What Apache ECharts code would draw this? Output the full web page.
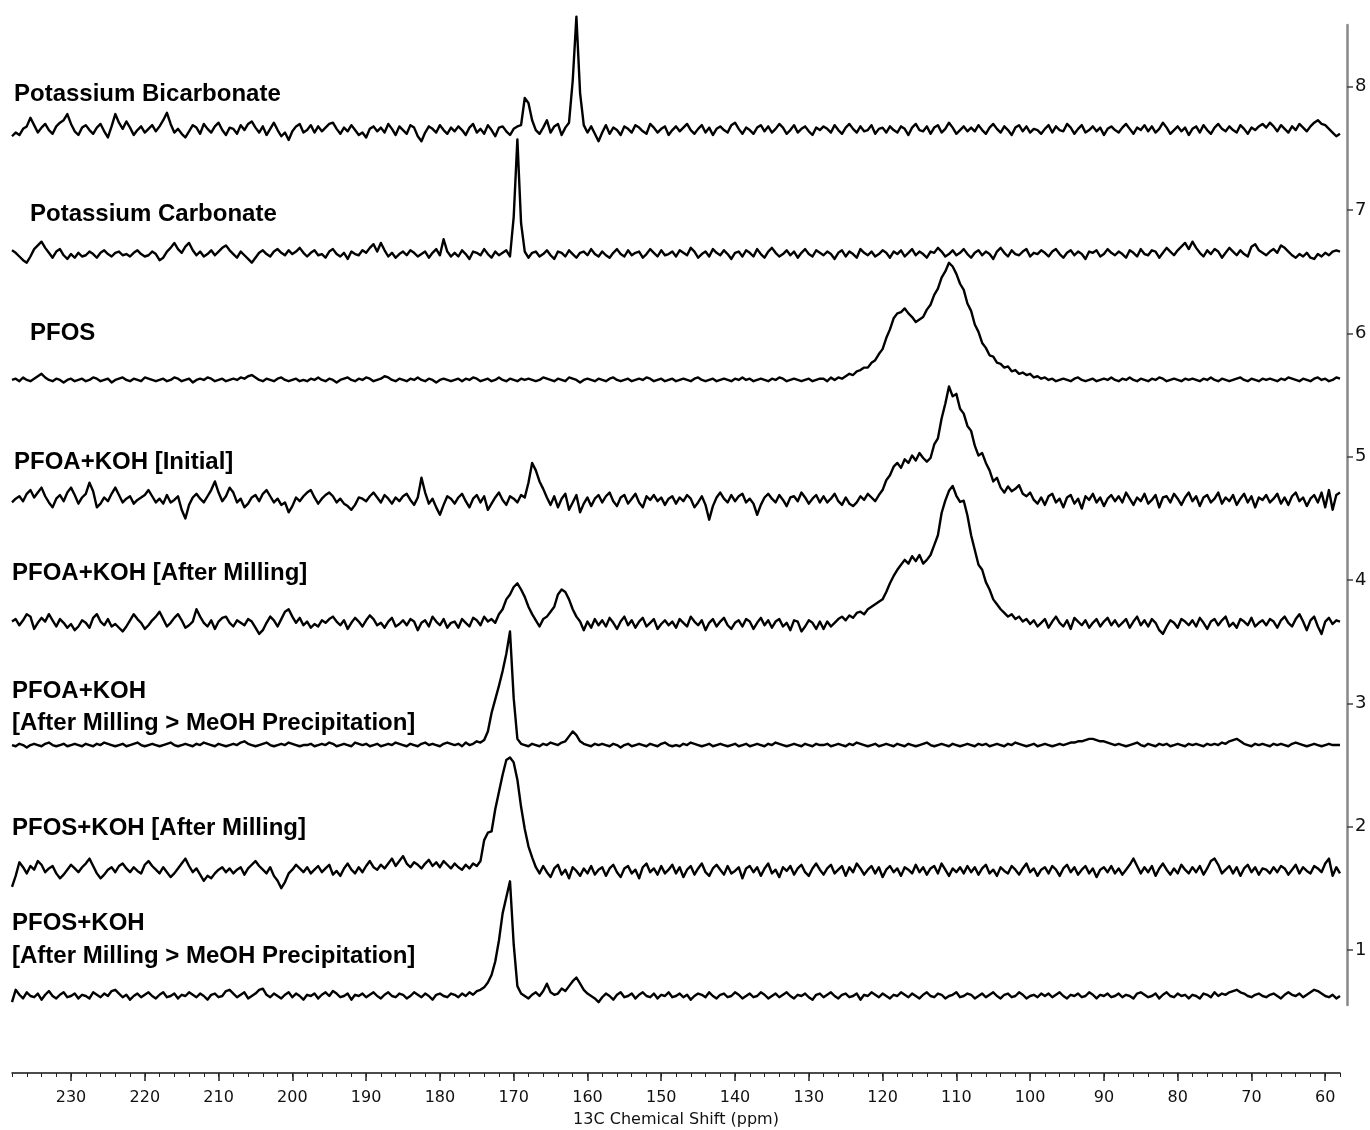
<!DOCTYPE html>
<html>
<head>
<meta charset="utf-8">
<title>13C NMR stacked spectra</title>
<script src="https://cdn.jsdelivr.net/npm/echarts@6/dist/echarts.min.js"></script>
<style>
  html, body { margin: 0; padding: 0; background: #fff; }
  #chart { width: 1370px; height: 1130px; }
</style>
</head>
<body>
<div id="chart"></div>
<script>
// ppm grid: every spectrum is sampled from 238 ppm down to 58 ppm, 0.5 ppm apart
var ppmStart = 238;
var ppmStep = 0.5;

// tick labels
var ppmTicks = [60, 70, 80, 90, 100, 110, 120, 130, 140, 150, 160, 170, 180, 190, 200, 210, 220, 230];
var stackTicks = [1, 2, 3, 4, 5, 6, 7, 8];

// trace names (top to bottom)
var traceNames = [
  'Potassium Bicarbonate',
  'Potassium Carbonate',
  'PFOS',
  'PFOA+KOH [Initial]',
  'PFOA+KOH [After Milling]',
  'PFOA+KOH [After Milling > MeOH Precipitation]',
  'PFOS+KOH [After Milling]',
  'PFOS+KOH [After Milling > MeOH Precipitation]'
];

// baseline of each trace on the stacking axis
var baselines = [7.648, 6.643, 5.622, 4.649, 3.643, 2.662, 1.641, 0.627];

// intensities, hundredths of a stack unit above the baseline (one row = 10 ppm)
var bicarbonate = [
  -5,-2,-4,1,3,10,4,-2,2,5,0,-3,3,6,8,13,5,-1,-4,2,
  4,0,-3,2,5,-1,-6,3,13,6,1,7,2,-4,0,3,-2,1,4,-1,
  3,8,14,5,-2,1,-3,-6,-1,4,2,-3,5,1,-2,3,6,0,-4,2,
  1,-3,4,0,5,7,2,-2,3,-4,1,6,0,-5,-2,-8,-1,3,5,-2,
  0,4,-2,3,-1,2,5,6,1,-3,2,-1,4,0,-4,-2,-6,1,3,-1,
  2,-2,5,1,-4,3,0,-3,4,2,-5,-9,-2,3,1,-2,4,0,-3,2,
  -1,3,0,-4,2,5,-2,1,-3,4,0,-5,2,3,-1,-4,1,3,4,26,
  22,8,0,-3,2,8,-2,3,5,-4,2,6,40,92,30,4,-2,3,-3,-9,
  -2,4,-3,2,0,-4,3,1,-2,4,2,-1,-3,5,2,-2,1,3,-4,0,
  3,-1,2,5,0,-3,1,4,-2,2,-4,1,3,0,-2,4,6,1,-3,2,
  0,-3,2,4,-1,3,-2,1,5,2,-3,0,4,-2,1,3,-1,-4,2,0,
  3,1,-2,4,0,-3,2,5,1,-2,3,-1,0,4,-3,1,2,-2,3,0,
  -2,3,1,-4,2,5,0,-1,3,-3,2,4,-2,1,6,2,-3,0,3,-1,
  2,-1,4,0,-3,2,5,1,-2,3,0,-4,2,4,-1,3,-2,1,0,-3,
  1,4,-2,3,0,-1,5,2,-3,1,4,-2,0,3,-1,2,-4,1,3,0,
  -2,2,5,1,-3,2,0,4,-1,3,-2,1,6,2,-3,0,3,-1,2,-4,
  1,3,-2,4,0,-3,2,5,1,-1,3,0,-2,4,1,-3,2,0,3,5,
  2,6,3,-1,4,1,-2,3,0,5,2,-1,3,6,8,5,4,1,-2,-5,
  -3
];

var carbonate = [
  3,1,-2,-5,-7,-2,4,7,10,5,1,-3,2,4,-1,-4,0,-3,1,-2,
  -1,2,0,-3,1,3,0,-2,1,2,-1,0,-2,1,3,0,-2,-1,2,0,
  -5,-3,2,5,9,4,1,6,9,3,-1,2,-2,0,3,-1,2,5,7,3,
  0,-3,2,-1,-4,-7,-3,1,3,0,-2,2,4,1,-1,3,0,2,5,1,
  -2,1,3,-1,0,-3,2,4,0,-2,1,-4,2,0,-1,3,1,5,8,2,
  9,3,-2,1,-3,0,2,-1,3,1,-2,0,2,-3,1,4,-1,12,2,-2,
  1,-2,3,0,-4,2,1,-1,4,0,-3,2,-1,1,3,-2,30,93,25,2,
  -3,1,2,-2,0,3,-1,-4,2,1,-2,3,0,-3,1,2,-1,4,0,-2,
  2,-1,-3,1,4,0,-2,3,-1,1,2,-3,0,4,1,-2,3,-1,0,2,
  -2,3,1,-1,5,2,-3,0,2,-2,4,1,-1,3,0,-4,1,2,-2,3,
  1,-2,4,0,-3,2,5,1,-2,0,3,-1,2,-3,1,4,0,-2,3,1,
  -1,2,0,-4,1,3,-2,2,0,-3,4,1,-1,2,-2,0,3,1,-3,2,
  0,3,-2,1,4,-1,2,0,-3,2,1,5,2,-2,0,3,-1,1,4,0,
  -3,1,3,-1,2,0,-4,2,5,1,-2,3,0,-1,2,4,-2,1,0,3,
  1,-2,2,4,0,-3,1,3,-1,2,0,-4,2,1,3,-2,0,4,1,-1,
  2,0,-3,3,1,-2,4,0,-1,3,2,-3,1,5,2,-1,3,6,9,4,
  10,5,1,-2,3,0,4,2,-3,1,5,2,-1,3,0,-2,6,8,3,1,
  -1,2,4,1,7,5,2,-1,-3,0,-2,1,-3,-4,0,-2,1,-1,2,3,
  2
];

var pfos = [
  0,1,-1,2,0,-1,1,3,5,2,0,-1,1,0,-2,0,1,-1,0,1,
  -1,0,2,1,-1,0,1,-2,0,1,2,0,-1,1,0,-1,2,1,0,-1,
  0,1,-1,0,2,1,-1,0,1,-2,0,1,0,2,1,-1,0,1,-1,0,
  1,0,2,1,3,4,2,0,-1,1,0,-1,1,2,0,-1,0,1,-1,0,
  -1,1,0,2,0,-1,1,0,-2,0,1,2,0,-1,1,0,2,1,-1,0,
  1,3,2,0,-1,1,0,-1,1,0,2,0,-1,1,0,-2,0,1,0,-1,
  0,1,-1,1,0,2,1,-1,0,1,-1,0,2,0,-1,1,0,-1,1,0,
  1,0,-1,0,2,1,0,-1,1,0,-1,2,1,0,-2,0,1,0,-1,1,
  0,-1,1,2,0,-1,0,1,-1,0,1,0,2,1,-1,0,1,-1,0,1,
  -1,0,1,0,-1,1,2,0,-1,0,1,-1,0,1,0,-1,1,0,2,0,
  1,-1,0,1,0,-1,1,0,2,1,-1,0,1,0,-1,0,1,-1,0,1,
  1,-1,2,0,2,1,3,5,4,7,8,10,10,14,16,21,25,34,41,50,
  54,55,58,54,51,47,49,51,57,61,69,74,83,88,95,92,86,78,73,62,
  56,45,39,30,26,20,19,14,13,10,11,7,8,5,6,4,5,2,3,1,
  2,0,1,-1,0,1,0,-1,1,2,0,-1,0,1,-1,0,1,0,2,0,
  -1,1,0,2,0,-1,1,0,-1,1,0,2,1,-1,0,1,0,-1,1,0,
  1,0,-1,1,0,2,0,-1,1,0,-1,0,1,2,0,-1,1,0,-1,1,
  0,1,0,-1,1,0,2,1,0,-1,1,0,-1,1,2,0,1,-1,0,2,
  1
];

var pfoaInitial = [
  -2,1,3,-1,5,8,2,6,10,3,-2,-6,1,4,-1,6,10,4,-3,2,
  5,14,7,-6,-3,2,-1,5,10,4,-2,1,3,-3,0,2,4,8,3,-2,
  1,-3,4,-2,0,3,-8,-15,-4,2,5,1,-2,3,8,15,6,-1,3,10,
  6,-2,1,-6,-3,2,4,-1,5,8,3,-2,1,-4,-2,-10,-5,2,-1,3,
  6,8,2,-3,1,4,6,3,-2,1,-3,-5,-8,-4,2,1,-1,3,6,2,
  -2,4,1,-3,2,-1,3,5,0,-4,2,18,6,-3,1,-6,-12,-4,3,1,
  -3,2,5,-1,-6,1,4,-2,3,-8,-3,2,6,0,-4,3,1,-2,4,2,
  14,30,24,15,9,2,-4,3,-6,1,5,-8,-2,4,-10,-3,2,-5,1,4,
  -2,3,6,-1,-5,2,4,-3,1,5,-2,-6,3,0,4,-1,2,-4,1,3,
  -3,2,-1,4,1,-6,-2,3,-4,-16,-5,2,6,1,-2,4,-1,3,5,-2,
  1,-3,-12,-4,2,5,1,-2,4,0,-5,2,3,-1,6,2,-3,1,4,-2,
  3,-2,1,5,-1,-4,2,-3,-5,-2,3,0,5,2,-1,4,8,16,20,27,
  30,26,33,30,36,32,38,34,31,34,45,50,66,78,92,84,86,74,70,60,
  56,44,36,38,30,24,15,18,10,6,11,7,9,12,5,3,6,0,-3,2,
  -4,3,5,-2,1,-6,2,4,-3,1,-7,3,0,5,-2,2,-5,1,4,-1,
  3,-2,6,1,-4,2,-1,5,-3,0,4,-6,2,3,-2,5,1,-4,2,6,
  -1,3,-5,2,4,-2,1,6,-3,2,-1,4,-4,1,5,-2,3,-6,2,0,
  4,-2,1,5,-3,2,-4,3,6,-1,2,-5,1,4,-2,6,-6,8,-8,4,
  6
];

var pfoaMilled = [
  2,4,-1,3,8,6,-4,1,5,2,8,3,-2,4,1,-3,0,-5,-2,3,
  1,-3,5,8,2,-1,4,-2,0,-3,-6,-2,3,8,4,1,-4,-1,3,6,
  10,4,-2,1,5,8,3,-3,-1,2,12,6,1,-2,3,-4,2,5,6,1,
  -2,3,1,-1,4,2,-3,-8,-5,1,6,3,-2,4,10,12,6,1,5,-1,
  2,-3,0,-2,3,1,4,6,2,-1,3,-4,1,5,2,-2,3,7,4,-1,
  1,-3,2,5,-2,0,3,-1,4,2,-5,1,3,-2,6,2,-1,4,-3,1,
  2,-3,4,1,-2,5,3,-1,6,2,4,1,8,12,20,24,30,33,28,22,
  14,8,3,-2,4,6,10,14,24,28,26,20,12,6,2,-5,2,-3,4,-1,
  3,-2,5,1,-4,2,6,-1,3,-3,2,5,-2,1,4,-4,0,3,-1,2,
  -3,4,1,-2,6,2,-1,3,-5,1,4,-2,2,5,-1,-4,1,3,-2,4,
  2,-4,1,5,-1,3,-3,2,4,-2,1,-5,3,2,-6,-2,3,1,-4,2,
  -4,2,-2,1,4,6,3,7,5,9,10,8,12,14,16,18,20,26,33,39,
  44,48,52,49,55,51,56,49,52,56,64,72,90,100,108,112,104,99,100,88,
  72,60,48,44,34,28,20,16,12,9,6,8,4,6,2,4,0,3,-2,1,
  4,-3,2,6,1,-2,3,-4,5,2,-1,3,-3,1,4,-2,2,5,-1,3,
  -2,1,4,-3,2,6,-1,3,-2,4,1,-5,-8,-2,3,1,-3,4,2,-1,
  3,-2,5,1,-4,2,4,-1,3,6,-2,1,-3,4,2,-1,5,-2,1,3,
  -1,4,2,-3,3,6,1,-2,4,8,2,-5,3,6,-2,-8,2,5,0,3,
  2
];

var pfoaMeoh = [
  0,-1,1,0,-2,0,1,0,-1,1,2,0,-1,0,1,-1,0,1,0,-1,
  1,0,-1,1,0,2,1,0,-1,0,1,-1,0,1,2,0,-1,0,1,0,
  -1,0,1,2,0,-1,0,1,0,-1,1,0,2,1,0,-1,1,0,-1,0,
  1,0,2,3,1,0,-1,0,1,2,0,-1,0,1,0,2,1,0,-1,0,
  0,1,-1,0,1,0,2,1,-1,0,1,0,-1,2,1,0,1,-1,0,1,
  -1,0,1,0,2,1,0,-1,1,0,-1,1,2,0,1,0,-1,1,2,1,
  0,1,-1,2,0,1,3,2,4,11,26,37,48,60,74,92,38,5,1,0,
  -1,1,0,-1,1,0,2,1,0,2,3,7,11,8,3,1,0,-1,1,0,
  1,0,-1,1,0,-2,0,1,-1,0,1,0,-1,1,0,-1,1,2,0,-1,
  0,-1,1,0,2,1,0,-1,0,1,-1,0,1,0,-1,0,1,-1,0,1,
  -1,0,1,0,-1,1,0,2,1,0,-1,0,1,0,-1,1,0,-1,1,0,
  0,1,-1,0,1,0,-1,1,0,2,1,0,-1,0,1,-1,0,1,0,-1,
  1,0,-1,1,0,-1,0,1,2,0,-1,0,1,0,-1,1,0,-1,0,1,
  0,-1,1,0,1,-1,0,1,0,-1,1,0,2,1,0,-1,0,1,-1,0,
  1,0,-1,0,1,0,1,2,2,3,3,4,5,5,4,3,3,2,1,0,
  1,0,-1,0,1,2,0,-1,1,0,-1,1,0,1,-1,0,1,0,-1,1,
  0,1,0,-1,1,0,1,0,2,1,3,4,5,3,1,0,-1,1,0,1,
  0,-1,1,0,1,0,-1,1,2,1,0,-1,0,1,0,-1,0,1,0,0,
  0
];

var pfosMilled = [
  -13,-4,7,3,-2,4,1,8,5,-1,2,4,-2,-6,-3,1,5,2,-1,3,
  6,10,4,-2,-6,-3,1,3,-1,4,6,2,-1,3,0,-2,5,8,4,1,
  -2,3,-1,-5,-2,2,6,10,4,-1,2,-3,-8,-4,-6,-2,1,3,-1,2,
  -2,1,3,-3,2,5,8,4,1,-2,3,-4,-8,-14,-9,-2,1,5,2,-1,
  3,-2,1,4,-1,2,5,-3,0,-4,2,6,1,-2,3,-1,4,8,3,1,
  5,2,6,10,4,8,12,6,3,7,5,2,6,9,4,7,3,8,5,2,
  6,3,1,5,2,6,4,8,25,31,32,50,64,78,90,92,88,74,52,34,
  20,11,3,-2,4,-1,-5,2,5,-3,1,-6,3,0,-4,2,-2,4,-3,1,
  3,-4,2,5,-1,-5,2,4,-2,1,-6,3,6,-1,2,-3,4,-2,1,5,
  -2,3,-5,1,4,-3,2,6,-1,-4,2,5,1,-3,4,-2,0,3,-6,2,
  4,-1,3,-4,2,6,-2,1,-5,3,0,4,-3,2,5,-1,-4,2,6,1,
  -3,2,5,-2,1,4,-4,3,-1,6,2,-3,1,4,-2,3,-5,1,4,-1,
  2,-4,3,1,-2,5,-1,3,-3,2,4,-2,6,1,-4,2,-1,3,-2,4,
  -1,3,-3,2,5,-2,1,-4,3,0,-2,4,1,-3,2,6,-1,2,-4,1,
  3,-2,4,1,-4,2,5,-1,3,-3,1,4,-2,2,-5,1,3,-1,4,-2,
  2,-3,1,5,10,4,-2,3,-1,4,-4,2,6,1,-3,2,-2,5,1,-2,
  3,-1,4,-3,2,8,10,5,-2,1,4,-2,3,-4,2,5,-1,3,-3,2,
  1,-2,3,-1,4,2,-3,1,5,-2,3,0,-2,4,2,-1,6,10,-4,3,
  -2
];

var pfosMeoh = [
  -5,5,1,-2,3,0,-1,2,-3,1,4,0,-2,1,3,-1,0,2,-2,1,
  0,-2,3,1,-1,2,0,4,5,2,-1,1,-3,0,2,-1,1,3,0,-2,
  1,3,-1,0,2,-2,1,0,3,1,-1,2,0,-3,1,2,-1,0,4,5,
  2,-1,1,3,-2,0,2,5,6,1,-1,2,0,-2,1,3,-1,2,0,-3,
  1,0,2,-2,1,3,0,4,2,-1,0,2,-3,1,0,2,-1,1,3,0,
  -2,1,3,0,-1,2,1,-2,0,3,1,-1,2,0,-3,1,2,0,-1,2,
  1,-1,2,0,3,1,4,5,7,11,17,28,45,67,80,93,42,8,2,0,
  -2,1,3,0,4,10,3,1,2,6,4,8,12,15,10,5,2,0,-2,-5,
  -1,2,0,-3,1,3,-1,0,2,-2,1,3,0,-1,2,-2,1,0,3,-1,
  0,2,-1,1,-3,0,2,1,-1,3,0,-2,1,2,-1,0,3,1,-2,0,
  2,-1,0,3,1,-2,0,2,-1,1,3,0,-2,1,0,2,-1,-3,1,2,
  -1,1,3,0,-2,1,2,-1,0,2,-3,1,0,3,1,-1,2,0,-2,1,
  0,3,1,-1,2,0,-2,1,3,0,-1,2,1,-2,0,1,3,-1,0,2,
  1,-2,0,2,-1,1,3,0,-2,1,2,-1,0,3,1,-2,0,1,-1,2,
  0,2,-1,1,3,0,-2,1,0,2,-1,0,3,1,-2,1,0,2,-1,0,
  2,-1,1,0,-2,2,3,1,-1,0,2,-2,1,3,0,-1,2,0,1,-2,
  1,0,-2,2,1,-1,3,0,2,1,3,4,5,3,2,0,-1,1,2,0,
  -1,1,2,0,-2,1,3,1,0,2,-1,1,3,5,4,2,0,-1,1,-2,
  0
];

var traces = [bicarbonate, carbonate, pfos, pfoaInitial, pfoaMilled, pfoaMeoh, pfosMilled, pfosMeoh];

// where the names are written (pixels) — one entry per text line
var labelLines = [
  { text: traceNames[0], x: 14, y: 94 },
  { text: traceNames[1], x: 30, y: 214 },
  { text: traceNames[2], x: 30, y: 333 },
  { text: traceNames[3], x: 14, y: 462 },
  { text: traceNames[4], x: 12, y: 573 },
  { text: 'PFOA+KOH', x: 12, y: 691 },
  { text: '[After Milling > MeOH Precipitation]', x: 12, y: 723 },
  { text: traceNames[6], x: 12, y: 828 },
  { text: 'PFOS+KOH', x: 12, y: 923 },
  { text: '[After Milling > MeOH Precipitation]', x: 12, y: 956 }
];

var chart = echarts.init(document.getElementById('chart'));

// build one line series per spectrum
var series = traces.map(function (vals, k) {
  return {
    name: traceNames[k],
    type: 'line',
    xAxisIndex: 0,
    yAxisIndex: 0,
    showSymbol: false,
    symbol: 'none',
    clip: false,
    silent: true,
    lineStyle: { color: '#000', width: 2.4, join: 'round' },
    data: vals.map(function (v, i) {
      return [ppmStart - i * ppmStep, baselines[k] + v / 100];
    })
  };
});

var graphics = labelLines.map(function (l) {
  return {
    type: 'text',
    x: l.x,
    y: l.y,
    silent: true,
    style: {
      text: l.text,
      fill: '#000',
      font: 'bold 24px "Liberation Sans", Arial, sans-serif',
      verticalAlign: 'middle'
    }
  };
});

var option = {
  animation: false,
  backgroundColor: '#fff',
  // fixed plot box: do not let labels push the grid around
  grid: { left: 12, right: 30, top: 25, bottom: 125, outerBoundsMode: 'none', containLabel: false },
  xAxis: [
    {
      // minor ticks every 2 ppm
      type: 'value',
      min: 58,
      max: 238,
      interval: 2,
      inverse: true,
      position: 'bottom',
      offset: 68,
      axisLine: { lineStyle: { color: '#111', width: 1.5 } },
      axisTick: { length: 4, lineStyle: { color: '#222', width: 1 } },
      axisLabel: { show: false },
      splitLine: { show: false }
    },
    {
      // major ticks and labels every 10 ppm
      type: 'value',
      min: 58,
      max: 238,
      inverse: true,
      position: 'bottom',
      offset: 68,
      axisLine: { show: false },
      axisTick: { customValues: ppmTicks, length: 8, lineStyle: { color: '#222', width: 1.5 } },
      axisLabel: {
        customValues: ppmTicks,
        margin: 17,
        color: '#111',
        fontSize: 16,
        fontFamily: '"DejaVu Sans", Verdana, sans-serif'
      },
      splitLine: { show: false },
      name: '13C Chemical Shift (ppm)',
      nameLocation: 'middle',
      nameGap: 39,
      nameTextStyle: { color: '#111', fontSize: 16, fontFamily: '"DejaVu Sans", Verdana, sans-serif' }
    }
  ],
  yAxis: {
    type: 'value',
    position: 'right',
    offset: 7,
    min: 0.554,
    max: 8.5,
    axisLine: { show: true, lineStyle: { color: '#888', width: 2.5 } },
    axisTick: { show: true, customValues: stackTicks, length: 6, lineStyle: { color: '#444', width: 1.5 } },
    axisLabel: {
      customValues: stackTicks,
      margin: 8,
      color: '#111',
      fontSize: 18,
      fontFamily: '"DejaVu Sans", Verdana, sans-serif'
    },
    splitLine: { show: false }
  },
  graphic: graphics,
  series: series
};

chart.setOption(option);
</script>
</body>
</html>
